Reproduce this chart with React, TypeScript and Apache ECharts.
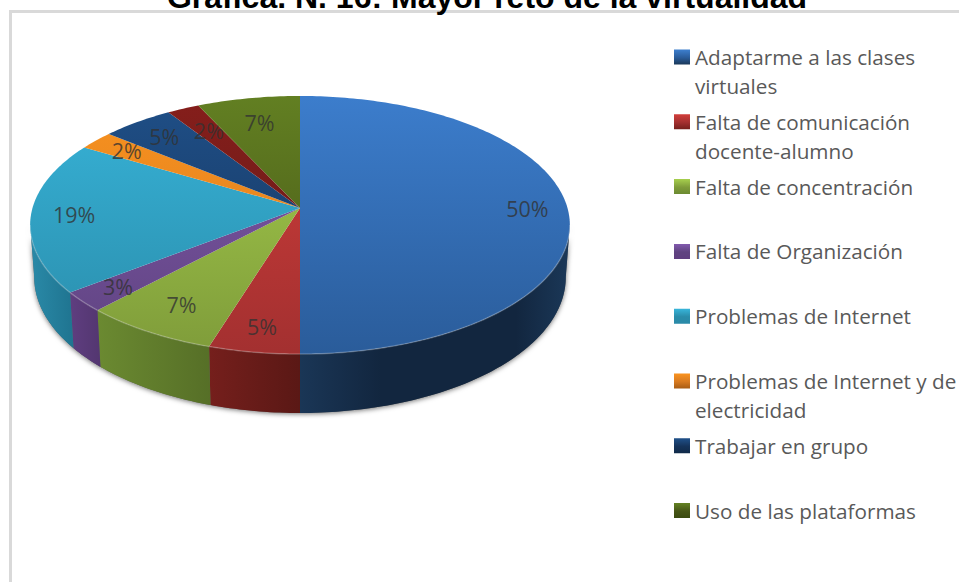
import React, { useEffect, useRef } from "react";
import * as echarts from "echarts";

const titleText = "Gráfica. N. 16: Mayor reto de la virtualidad";
const categories = [
  "Adaptarme a las clases\nvirtuales",
  "Falta de comunicación\ndocente-alumno",
  "Falta de concentración",
  "Falta de Organización",
  "Problemas de Internet",
  "Problemas de Internet y de\nelectricidad",
  "Trabajar en grupo",
  "Sin leyenda",
  "Uso de las plataformas",
];
const legendNames = categories.filter((c) => c !== "Sin leyenda");
const values = [50, 4.8, 7.2, 2.5, 19, 2.4, 4.9, 2.2, 7];

const topLight = ["#3c7dcc", "#cf3d3a", "#a4cc4c", "#8059ab", "#37b3d8", "#f8921f", "#1f4f87", "#861e1b", "#627f22"];
const topDark = ["#2a5c9a", "#a33030", "#7f9c3a", "#5f4380", "#2a8caa", "#d87a20", "#15335a", "#5e1a18", "#465516"];
const wallLight = ["#1b3858", "#751f1c", "#6b8a31", "#5f3e80", "#2a8aa8", "#a85c14", "#102a48", "#4e1412", "#3a4a10"];
const wallDark = ["#12263f", "#5a1815", "#566f27", "#533670", "#1f7490", "#a85c14", "#102a48", "#4e1412", "#3a4a10"];
const labelRadius = [0.85, 0.84, 0.8, 0.85, 0.84, 0.84, 0.82, 0.76, 0.76];

const CX = 300, CY = 208, A = 267.5, B = 126.8, K = 0.1318, DEPTH = 51.2, SHRINK = 0.985;
const TOP_Y = 96, BOTTOM_Y = 354;

const rad = (d: number) => (d * Math.PI) / 180;
function project(deg: number, r: number, lower: boolean): [number, number] {
  const u = r * Math.sin(rad(deg));
  const v = -r * Math.cos(rad(deg));
  const w = 1 - K * v;
  return [CX + ((lower ? SHRINK : 1) * A * u) / w, CY + (B * v) / w + (lower ? DEPTH / w : 0)];
}
function arc(from: number, to: number, lower: boolean): [number, number][] {
  const pts: [number, number][] = [];
  const n = Math.max(2, Math.ceil(Math.abs(to - from)));
  for (let i = 0; i <= n; i++) pts.push(project(from + ((to - from) * i) / n, 1, lower));
  return pts;
}
const total = values.reduce((a, b) => a + b, 0);
const WALL_START = (Math.acos(-K) * 180) / Math.PI;
const WALL_END = 360 - WALL_START;

function sliceRenderer(idx: number) {
  return (_p: any, api: any) => {
    const before = values.slice(0, idx).reduce((a, b) => a + b, 0);
    const start = (before / total) * 360;
    const end = start + (api.value(0) / total) * 360;
    const children: any[] = [];
    const a0 = Math.max(start, WALL_START);
    const a1 = Math.min(end, WALL_END);
    if (a1 > a0) {
      const upper = arc(a0, a1, false);
      const lower = arc(a0, a1, true);
      const xs = [...upper, ...lower].map((p) => p[0]);
      children.push({
        type: "polygon",
        shape: { points: [...upper, ...lower.reverse()] },
        style: {
          fill: new echarts.graphic.LinearGradient(
            Math.min(...xs), 0, Math.max(...xs), 0,
            idx === 0
              ? [
                  { offset: 0, color: "#1a3656" },
                  { offset: 0.3, color: wallDark[idx] },
                  { offset: 0.8, color: wallDark[idx] },
                  { offset: 1, color: wallLight[idx] },
                ]
              : [{ offset: 0, color: wallLight[idx] }, { offset: 1, color: wallDark[idx] }],
            true
          ),
        },
      });
    }
    children.push({
      type: "polygon",
      shape: { points: [[CX, CY], ...arc(start, end, false)] },
      style: {
        fill: new echarts.graphic.LinearGradient(
          0, TOP_Y, 0, BOTTOM_Y,
          [{ offset: 0, color: topLight[idx] }, { offset: 1, color: topDark[idx] }],
          true
        ),
      },
    });
    if (a1 > a0) {
      children.push({
        type: "polyline",
        shape: { points: arc(a0, a1, false) },
        style: { stroke: "rgba(255,255,255,0.22)", lineWidth: 1.5, fill: "none" },
      });
    }
    const mid = (start + end) / 2;
    const [lx, ly] = project(mid, labelRadius[idx], false);
    children.push({
      type: "text",
      style: {
        text: `${Math.round((api.value(0) / total) * 100)}%`,
        x: lx,
        y: ly,
        align: "center",
        verticalAlign: "middle",
        fill: "rgba(50,50,50,0.8)",
        font: "21.5px 'Open Sans'",
      },
    });
    return { type: "group", children };
  };
}

function shadowRenderer() {
  const lower = arc(WALL_START, WALL_END, true);
  const upper = arc(WALL_START, WALL_END, false);
  return {
    type: "polygon",
    shape: { points: [...upper, ...lower.reverse()] },
    style: { fill: "#666", shadowBlur: 5, shadowColor: "rgba(0,0,0,0.55)", shadowOffsetY: 1 },
  };
}

export default function App() {
  const ref = useRef<HTMLDivElement>(null);
  useEffect(() => {
    const chart = echarts.init(ref.current!, null, { renderer: "svg" });
    chart.setOption({
      animation: false,
      backgroundColor: "#fff",
      title: {
        text: titleText,
        left: 482,
        top: -24,
        textAlign: "center",
        textStyle: { fontFamily: "'Liberation Sans'", fontWeight: "bold", fontSize: 32, color: "#000" },
      },
      legend: {
        orient: "vertical",
        left: 669,
        top: 37.5,
        itemGap: 6.8,
        itemWidth: 16,
        itemHeight: 58,
        icon: "path://M0 7H16V22H0Z M0 0L0.01 0 M0 58L0.01 58",
        selectedMode: false,
        data: legendNames,
        formatter: (n: string) => (n.includes("\n") ? n : n + "\n "),
        textStyle: { fontFamily: "'Open Sans'", fontSize: 20.7, color: "#595959", lineHeight: 29 },
      },
      graphic: [
        { type: "line", shape: { x1: 10, y1: 11.5, x2: 959, y2: 11.5 }, style: { stroke: "#d9d9d9", lineWidth: 3 } },
        { type: "line", shape: { x1: 10.5, y1: 10, x2: 10.5, y2: 582 }, style: { stroke: "#d9d9d9", lineWidth: 3 } },
      ],
      series: [
        {
          type: "custom",
          name: "sombra",
          coordinateSystem: "none",
          silent: true,
          data: [[total]],
          renderItem: shadowRenderer,
        },
        ...categories.map((name, i) => ({
          type: "custom",
          name,
          coordinateSystem: "none",
          silent: true,
          data: [[values[i]]],
          itemStyle: {
            color: new echarts.graphic.LinearGradient(0, 0, 0, 1, [
              { offset: 0.13, color: topLight[i] },
              { offset: 0.26, color: topDark[i] },
              { offset: 0.38, color: wallLight[i] },
            ]),
          },
          renderItem: sliceRenderer(i),
        })),
      ],
    });
    return () => chart.dispose();
  }, []);
  return <div ref={ref} style={{ position: "fixed", left: 0, top: 0, width: 959, height: 582 }} />;
}
